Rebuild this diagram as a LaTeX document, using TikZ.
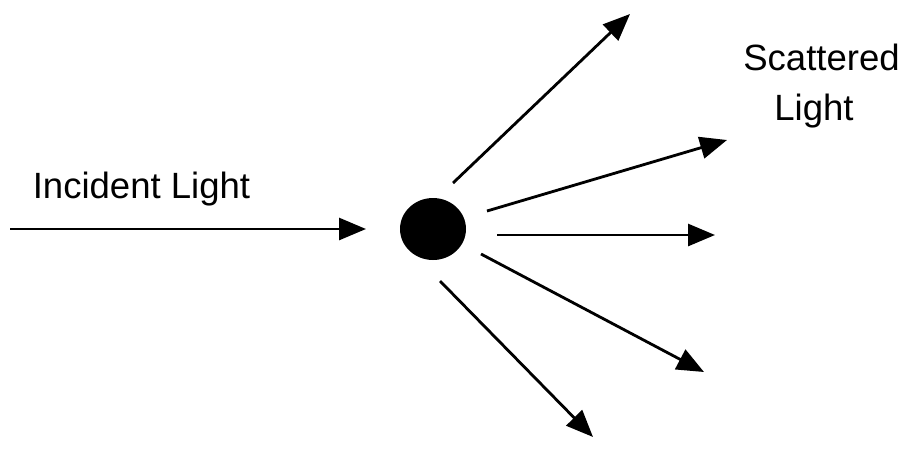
\documentclass[tikz,border=0pt]{standalone}
\usepackage{fontspec}
\setmainfont{Liberation Sans}
\usetikzlibrary{arrows.meta,shapes.geometric}
\begin{document}
\begin{tikzpicture}[x=0.02cm,y=-0.02cm,
  ray/.style={line width=1.6pt,-{Triangle[length=0.54cm,width=0.44cm]}},
  lbl/.style={font=\fontsize{20.8pt}{25pt}\selectfont,inner sep=0pt,anchor=base}]
\useasboundingbox (0,0) rectangle (902,467);
\node[fill=black,ellipse,draw=none,inner sep=0pt,minimum width=1.32cm,minimum height=1.24cm] (p) at (433,229) {};
\coordinate (i0) at (10,229);
\coordinate (i1) at (366,229);
\coordinate (a0) at (453,183); \coordinate (a1) at (630,14);
\coordinate (b0) at (487,211); \coordinate (b1) at (727,140);
\coordinate (c0) at (497,235); \coordinate (c1) at (715,235);
\coordinate (d0) at (481,254); \coordinate (d1) at (704,372);
\coordinate (e0) at (440,281); \coordinate (e1) at (593,437);
\draw[ray] (i0) -- (i1);
\draw[ray] (a0) -- (a1);
\draw[ray] (b0) -- (b1);
\draw[ray] (c0) -- (c1);
\draw[ray] (d0) -- (d1);
\draw[ray] (e0) -- (e1);
\node[lbl] (inc) at (141.5,198) {Incident Light};
\node[lbl] (sc1) at (821.5,70) {Scattered};
\node[lbl] (sc2) at (814,120) {Light};
\end{tikzpicture}
\end{document}
